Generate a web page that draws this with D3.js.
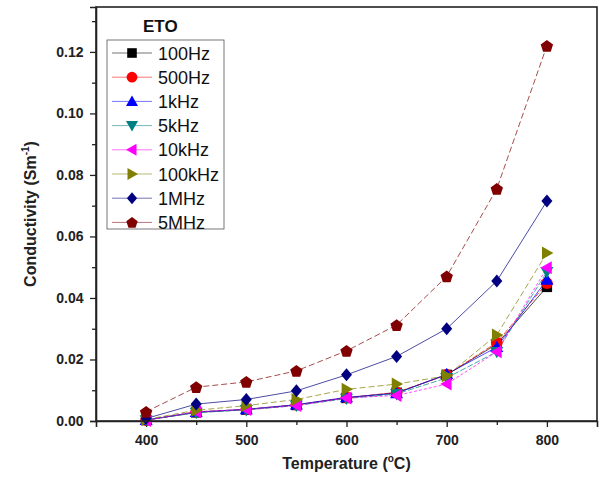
<!DOCTYPE html>
<html><head><meta charset="utf-8">
<script src="https://cdn.jsdelivr.net/npm/d3@7/dist/d3.min.js"></script>
<style>body{margin:0;background:#fff}svg{display:block}text{font-family:"Liberation Sans",Arial,sans-serif}</style>
</head><body><svg id="c" width="600" height="477"></svg>
<script>
const temperatures = [400, 450, 500, 550, 600, 650, 700, 750, 800];
const seriesNames = ["100Hz","500Hz","1kHz","5kHz","10kHz","100kHz","1MHz","5MHz"];
const s100Hz  = [0.0003, 0.0028, 0.0037, 0.0052, 0.0075, 0.0092, 0.0150, 0.0250, 0.0436];
const s500Hz  = [0.0003, 0.0030, 0.0038, 0.0053, 0.0076, 0.0093, 0.0150, 0.0255, 0.0448];
const s1kHz   = [0.0003, 0.0029, 0.0038, 0.0053, 0.0077, 0.0090, 0.0152, 0.0240, 0.0459];
const s5kHz   = [0.0003, 0.0027, 0.0036, 0.0050, 0.0073, 0.0088, 0.0140, 0.0225, 0.0485];
const s10kHz  = [0.0002, 0.0030, 0.0037, 0.0050, 0.0075, 0.0083, 0.0120, 0.0225, 0.0498];
const s100kHz = [0.0005, 0.0035, 0.0050, 0.0070, 0.0103, 0.0120, 0.0147, 0.0280, 0.0546];
const s1MHz   = [0.0008, 0.0055, 0.0070, 0.0098, 0.0150, 0.0210, 0.0300, 0.0455, 0.0715];
const s5MHz   = [0.0030, 0.0110, 0.0127, 0.0163, 0.0228, 0.0312, 0.0470, 0.0755, 0.1220];
const seriesValues = [s100Hz, s500Hz, s1kHz, s5kHz, s10kHz, s100kHz, s1MHz, s5MHz];
const xTicks = [400, 500, 600, 700, 800];
const yTicks = [0, 0.02, 0.04, 0.06, 0.08, 0.10, 0.12];

const colors = ["#000000","#ff0000","#0000ff","#008080","#ff00ff","#808000","#000080","#800000"];
const shapes = ["square","circle","up","down","left","right","diamond","pentagon"];

const svg = d3.select("#c");
const L = 96, R = 597, T = 7, B = 421;
const x = d3.scaleLinear().domain([350, 850]).range([L, R]);
const y = d3.scaleLinear().domain([0, 0.1346]).range([B, T]);

function shapePath(s, r) {
  const p = d3.path();
  const poly = pts => { pts.forEach((q,i)=> i? p.lineTo(q[0],q[1]) : p.moveTo(q[0],q[1])); p.closePath(); };
  if (s === "square") { const h = r*0.8; poly([[-h,-h],[h,-h],[h,h],[-h,h]]); }
  else if (s === "circle") { p.arc(0,0,r*0.9,0,2*Math.PI); p.closePath(); }
  else if (s === "up") poly([[0,-r],[r,r*0.75],[-r,r*0.75]]);
  else if (s === "down") poly([[0,r],[r,-r*0.75],[-r,-r*0.75]]);
  else if (s === "left") poly([[-r,0],[r*0.75,-r],[r*0.75,r]]);
  else if (s === "right") poly([[r,0],[-r*0.75,-r],[-r*0.75,r]]);
  else if (s === "diamond") poly([[0,-r],[r*0.85,0],[0,r],[-r*0.85,0]]);
  else if (s === "pentagon") { const pts=[]; for(let i=0;i<5;i++){const a=-Math.PI/2+i*2*Math.PI/5; pts.push([r*Math.cos(a), r*Math.sin(a)+r*0.1]);} poly(pts); }
  return p.toString();
}

// axes
const xAxis = d3.axisBottom(x).tickValues(xTicks).tickSize(6).tickFormat(d3.format("d"));
const gx = svg.append("g").attr("transform",`translate(0,${B})`).call(xAxis);
svg.append("g").attr("transform",`translate(0,${B})`)
  .call(d3.axisBottom(x).tickValues([450,550,650,750]).tickSize(4).tickFormat(""))
  .call(g=>g.select(".domain").remove());
const yAxis = d3.axisLeft(y).tickValues(yTicks).tickSize(6).tickFormat(d3.format(".2f"));
const gy = svg.append("g").attr("transform",`translate(${L},0)`).call(yAxis);
svg.append("g").attr("transform",`translate(${L},0)`)
  .call(d3.axisLeft(y).tickValues([0.01,0.03,0.05,0.07,0.09,0.11,0.13]).tickSize(4).tickFormat(""))
  .call(g=>g.select(".domain").remove());
svg.selectAll(".tick line").attr("stroke","#222").attr("stroke-width",1.3);
svg.selectAll(".domain").attr("stroke","#222").attr("stroke-width",1.6);
gx.selectAll("text").attr("font-size",14).attr("font-weight","bold").attr("fill","#222").attr("dy","1.1em");
gy.selectAll("text").attr("font-size",14).attr("font-weight","bold").attr("fill","#222").attr("dx","-0.25em");

// axis titles
const xt = svg.append("text").attr("x",(L+R)/2).attr("y",469).attr("text-anchor","middle")
  .attr("font-size",16).attr("font-weight","bold").attr("fill","#222");
xt.append("tspan").text("Temperature (");
xt.append("tspan").text("o").attr("font-size",10).attr("dy",-7);
xt.append("tspan").text("C)").attr("dy",7);
const yt = svg.append("text").attr("transform",`translate(36,${(T+B)/2}) rotate(-90)`).attr("text-anchor","middle")
  .attr("font-size",16).attr("font-weight","bold").attr("fill","#222");
yt.append("tspan").text("Conductivity (Sm");
yt.append("tspan").text("-1").attr("font-size",10).attr("dy",-7);
yt.append("tspan").text(")").attr("dy",7);

// series
const line = d3.line().x((d,i)=>x(temperatures[i])).y(d=>y(d));
const dashes = [null, "6,2", null, "6,2", "3,2", "6,3", null, "6,3"];
seriesValues.forEach((vals, k) => {
  svg.append("path").datum(vals).attr("d", line).attr("fill","none")
    .attr("stroke", colors[k]).attr("stroke-width",1).attr("stroke-opacity",0.7)
    .attr("stroke-dasharray", dashes[k]);
});
seriesValues.forEach((vals, k) => {
  svg.append("g").selectAll("path").data(vals).join("path")
    .attr("transform",(d,i)=>`translate(${x(temperatures[i])},${y(d)})`)
    .attr("d", shapePath(shapes[k], 6.5)).attr("fill", colors[k]);
});

// plot frame
svg.append("rect").attr("x",L).attr("y",T).attr("width",R-L).attr("height",B-T)
  .attr("fill","none").attr("stroke","#222").attr("stroke-width",1.6);

// legend
svg.append("text").attr("x",143).attr("y",32).attr("font-size",17).attr("font-weight","bold").attr("fill","#111").text("ETO");
svg.append("rect").attr("x",107).attr("y",40).attr("width",117).attr("height",189)
  .attr("fill","#fff").attr("stroke","#555").attr("stroke-width",0.8);
seriesNames.forEach((n,k)=>{
  const yy = 53 + k*24.2;
  svg.append("line").attr("x1",112).attr("x2",152).attr("y1",yy).attr("y2",yy)
    .attr("stroke",colors[k]).attr("stroke-width",1).attr("stroke-opacity",0.55);
  svg.append("path").attr("transform",`translate(132,${yy})`).attr("d",shapePath(shapes[k],6)).attr("fill",colors[k]);
  svg.append("text").attr("x",158).attr("y",yy+6.5).attr("font-size",18).attr("fill","#111").text(n);
});
</script></body></html>
